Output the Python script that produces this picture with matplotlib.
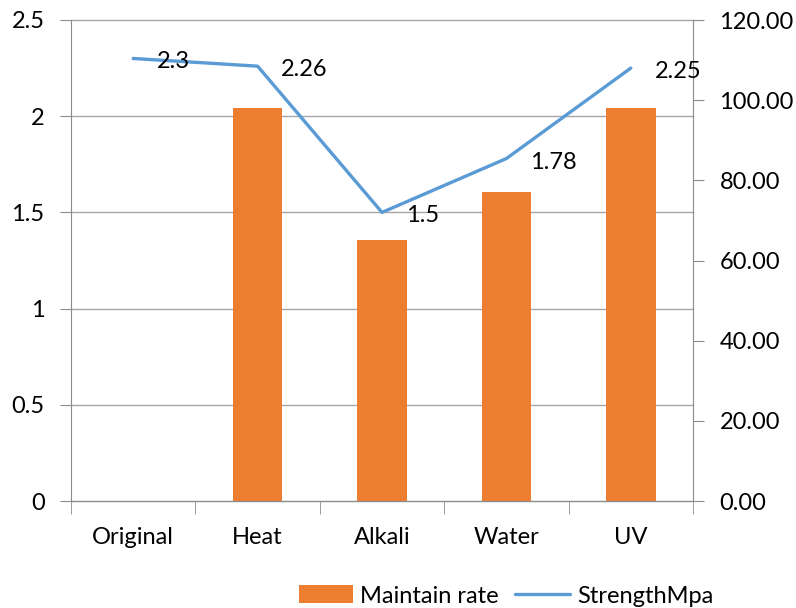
import matplotlib
matplotlib.use("Agg")
import matplotlib.pyplot as plt
import numpy as np

categories = ["Original", "Heat", "Alkali", "Water", "UV"]
maintain_rate = [0.0, 98.0, 65.1, 77.2, 98.0]
strength_mpa = [2.3, 2.26, 1.5, 1.78, 2.25]
left_ticks = [0, 0.5, 1, 1.5, 2, 2.5]
left_tick_labels = ["0", "0.5", "1", "1.5", "2", "2.5"]
right_ticks = [0, 20, 40, 60, 80, 100, 120]

ORANGE = "#ED7D31"
BLUE = "#5B9BD5"
GRID = "#A6A6A6"
AXIS = "#8C8C8C"
FS = 17

plt.rcParams["font.family"] = ["Lato", "DejaVu Sans"]

fig = plt.figure(figsize=(7.96, 6.08), dpi=100)
ax_l = fig.add_axes([71 / 796, 1 - 501 / 608, (693 - 71) / 796, (501 - 20) / 608])
ax_r = ax_l.twinx()

x = np.arange(len(categories))

# bars on the right-hand (rate) axis, underneath
ax_r.set_ylim(0, 120)
ax_r.set_xlim(-0.5, len(categories) - 0.5)
bars = ax_r.bar(x, maintain_rate, width=0.4, color=ORANGE, zorder=3,
                label="Maintain rate")

# horizontal gridlines follow the left axis ticks, drawn below the bars
lo, hi = 0, 2.5
for t in left_ticks:
    f = (t - lo) / (hi - lo)
    ax_r.plot([0, 1], [f, f], transform=ax_r.transAxes, color=GRID,
              lw=1.0, zorder=1, clip_on=False)

# strength line on the left axis, on top
ax_l.set_zorder(ax_r.get_zorder() + 1)
ax_l.patch.set_visible(False)
ax_l.set_ylim(lo, hi)
ax_l.set_xlim(-0.5, len(categories) - 0.5)
line, = ax_l.plot(x, strength_mpa, color=BLUE, lw=2.4, solid_capstyle="round",
                  label="StrengthMpa", zorder=4)
for xi, v in zip(x, strength_mpa):
    ax_l.annotate(f"{v:g}", (xi, v), xytext=(17, -2.5), textcoords="offset points",
                  ha="left", va="center", fontsize=FS, color="black", zorder=5)

# axes styling
for a in (ax_l, ax_r):
    for s in a.spines.values():
        s.set_visible(False)

ax_l.spines["left"].set_visible(True)
ax_l.spines["left"].set_color(AXIS)
ax_r.spines["right"].set_visible(True)
ax_r.spines["right"].set_color(AXIS)
ax_l.spines["bottom"].set_visible(True)
ax_l.spines["bottom"].set_color(AXIS)

ax_l.set_yticks(left_ticks)
ax_l.set_yticklabels(left_tick_labels)
ax_l.tick_params(axis="y", direction="out", length=8, color=AXIS, labelsize=FS, pad=11)

ax_r.set_yticks(right_ticks)
ax_r.set_yticklabels([f"{t:.2f}" for t in right_ticks])
ax_r.tick_params(axis="y", direction="out", length=8, color=AXIS, labelsize=FS, pad=11)
ax_r.set_xticks([])

ax_l.set_xticks(x)
ax_l.set_xticklabels(categories)
ax_l.set_xticks(np.arange(-0.5, len(categories)), minor=True)
ax_l.tick_params(axis="x", which="major", length=0, labelsize=FS, pad=19)
ax_l.tick_params(axis="x", which="minor", length=9, color=AXIS, direction="out")

fig.legend([bars, line], ["Maintain rate", "StrengthMpa"], loc="center",
           bbox_to_anchor=(506 / 796, 1 - 596 / 608), ncol=2, frameon=False,
           fontsize=FS, handlelength=2.3, handletextpad=0.3, columnspacing=0.7,
           handleheight=0.8, borderpad=0.1)

fig.savefig("out.png", dpi=100)
